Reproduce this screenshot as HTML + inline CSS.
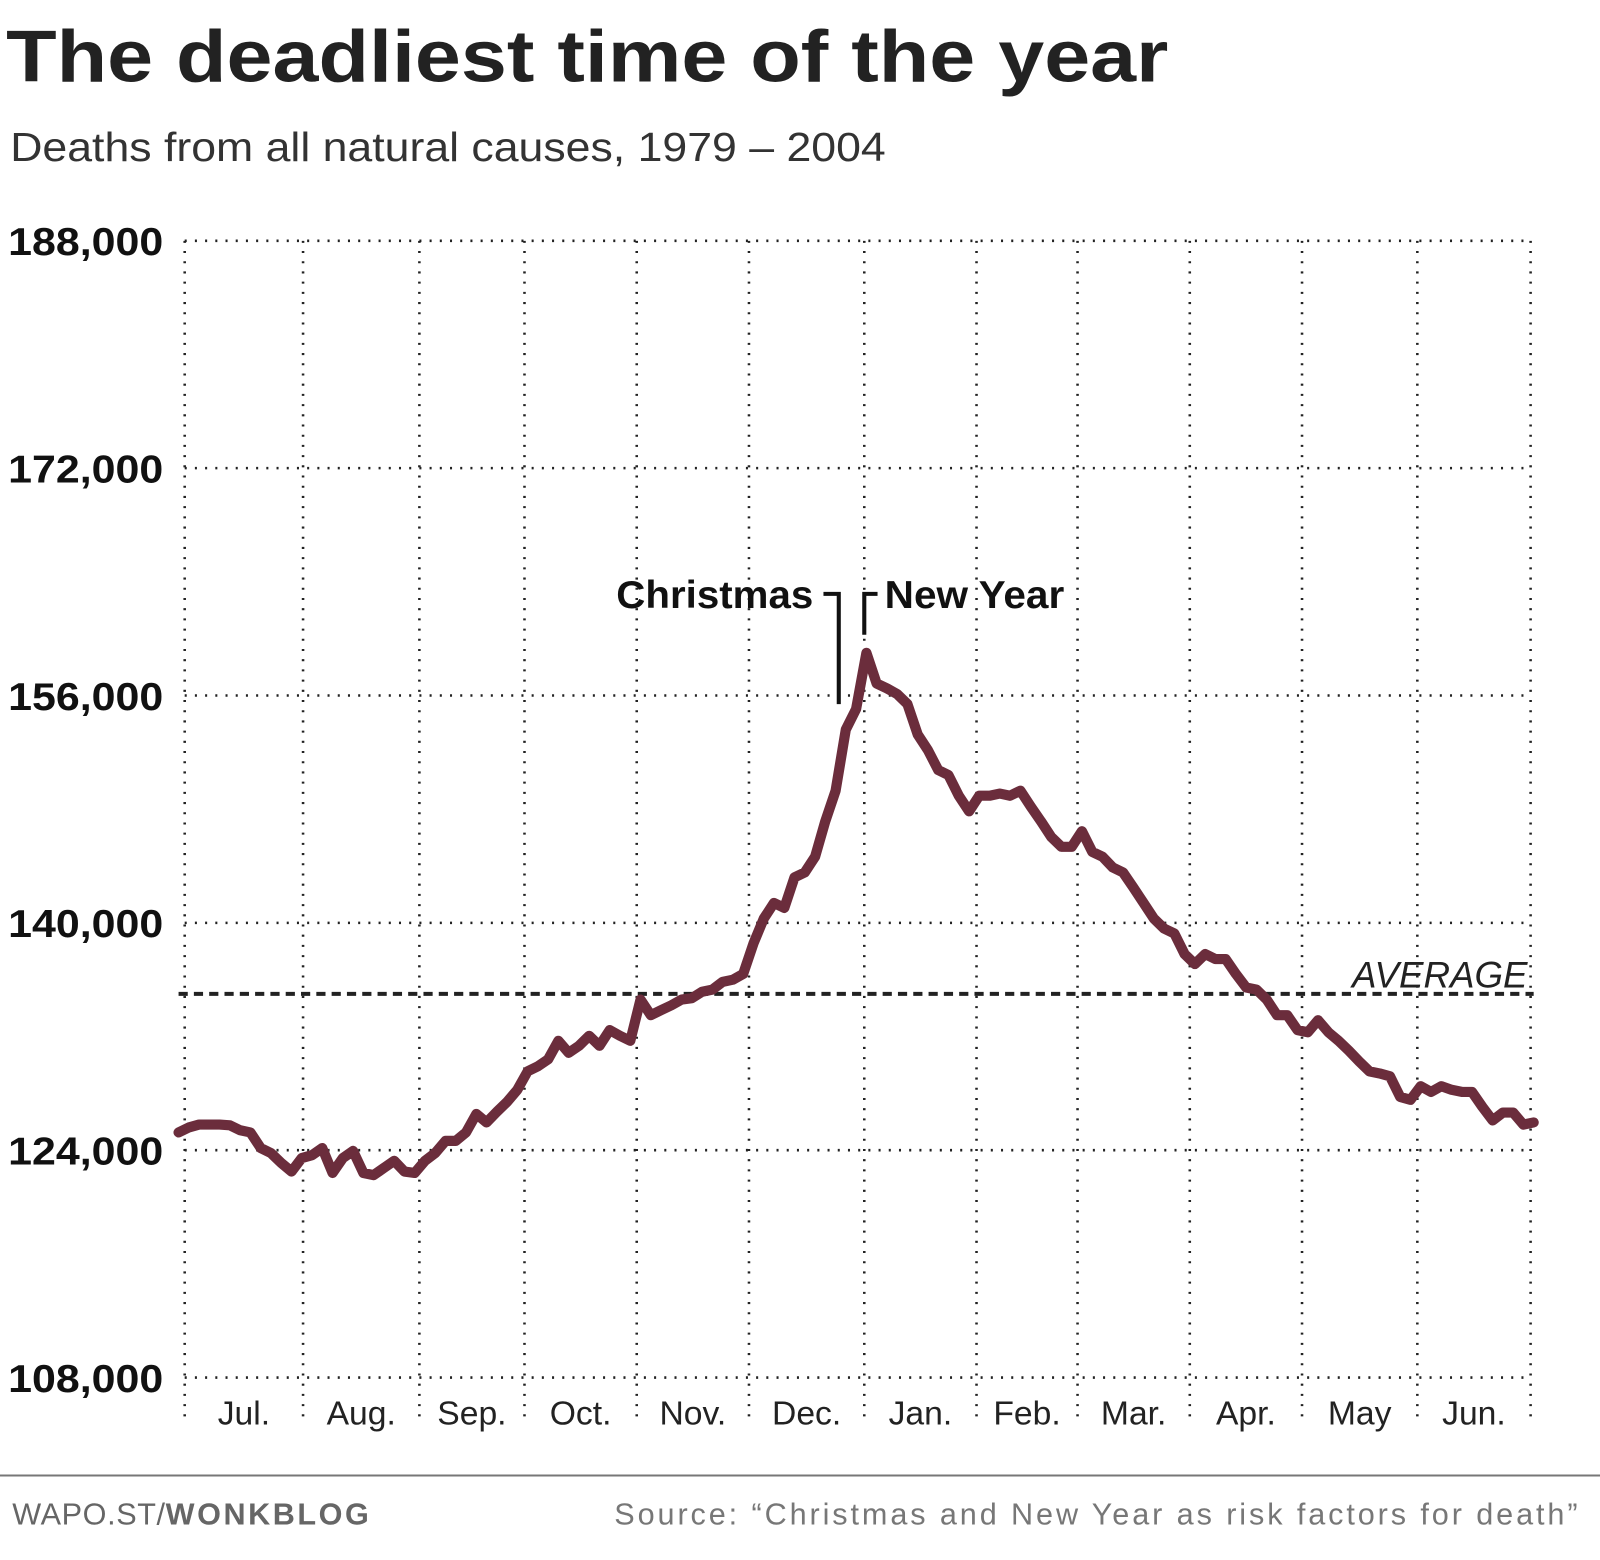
<!DOCTYPE html>
<html><head><meta charset="utf-8"><style>
html,body{margin:0;padding:0;background:#fff;}
body{width:1600px;height:1555px;overflow:hidden;font-family:"Liberation Sans",sans-serif;}
</style></head><body>
<svg width="1600" height="1555" viewBox="0 0 1600 1555" xmlns="http://www.w3.org/2000/svg">
<g transform="scale(1.0204)">
<text x="6" y="80" font-size="72" font-weight="bold" fill="#222" textLength="1139" lengthAdjust="spacingAndGlyphs">The deadliest time of the year</text>
<text x="10" y="158" font-size="40" fill="#333" textLength="858" lengthAdjust="spacingAndGlyphs">Deaths from all natural causes, 1979 – 2004</text>
<g id="grid"></g>
<g id="ylabels"></g>
<g id="xlabels"></g>
<line id="avg" x1="175" x2="1503" stroke="#222" stroke-width="4" stroke-dasharray="9,6"/>
<text x="1497" y="968" font-size="36" font-style="italic" fill="#222" text-anchor="end">AVERAGE</text>
<path id="series" fill="none" stroke="#6b2d3c" stroke-width="10" stroke-linejoin="round" stroke-linecap="round"/>
<text x="797" y="596" font-size="38" font-weight="bold" fill="#111" text-anchor="end" textLength="193" lengthAdjust="spacingAndGlyphs">Christmas</text>
<path d="M807,582 H822 V690" fill="none" stroke="#111" stroke-width="4"/>
<path d="M860,582 H847 V622" fill="none" stroke="#111" stroke-width="4"/>
<text x="867" y="596" font-size="38" font-weight="bold" fill="#111" textLength="176" lengthAdjust="spacingAndGlyphs">New Year</text>
<line x1="0" x2="1600" y1="1446" y2="1446" stroke="#777" stroke-width="2"/>
<text x="12" y="1494" font-size="30" fill="#666" letter-spacing="0.6">WAPO.ST/<tspan font-weight="bold" letter-spacing="2.5">WONKBLOG</tspan></text>
<text x="602" y="1494" font-size="30" fill="#777" textLength="944" lengthAdjust="spacing">Source: “Christmas and New Year as risk factors for death”</text>
</g>
</svg>
<script>
const yTicks=[108000,124000,140000,156000,172000,188000];
const yTickLabels=["108,000","124,000","140,000","156,000","172,000","188,000"];
const months=["Jul.","Aug.","Sep.","Oct.","Nov.","Dec.","Jan.","Feb.","Mar.","Apr.","May","Jun."];
const average=135000;
const deaths=[125250,125600,125800,125800,125800,125750,125400,125250,124150,123800,123100,122500,123450,123650,124150,122400,123450,123950,122400,122250,122750,123250,122500,122400,123250,123800,124650,124650,125250,126550,125950,126700,127400,128250,129550,129900,130400,131700,130850,131350,132050,131350,132450,132050,131700,134600,133500,133850,134200,134600,134700,135150,135300,135850,136000,136400,138550,140300,141400,141050,143200,143550,144650,147150,149300,153600,155050,159000,156850,156500,156100,155400,153250,152150,150750,150400,148950,147850,148950,148950,149100,148950,149300,148200,147150,146050,145350,145350,146450,145000,144650,143900,143550,142500,141400,140300,139600,139250,137800,137100,137800,137450,137450,136400,135450,135300,134600,133500,133500,132450,132300,133150,132300,131700,131000,130250,129550,129400,129200,127750,127550,128500,128100,128500,128250,128100,128100,127050,126100,126650,126650,125800,125950];
const NS="http://www.w3.org/2000/svg";
const plotTop=236,plotBottom=1350,plotLeft=175,plotRight=1503;
const yMin=108000,yMax=188000;
function yScale(v){return plotBottom-(v-yMin)/(yMax-yMin)*(plotBottom-plotTop);}
function xScale(i){return plotLeft+i/(deaths.length-1)*(plotRight-plotLeft);}
const vlines=[181,297,411,514,624,734,847,957,1056,1166,1276,1389,1500];
const grid=document.getElementById('grid');
yTicks.forEach((t,i)=>{
 const l=document.createElementNS(NS,'line');
 l.setAttribute('x1',181);l.setAttribute('x2',1500);
 l.setAttribute('y1',yScale(t));l.setAttribute('y2',yScale(t));
 l.setAttribute('stroke','#222');l.setAttribute('stroke-width','2.5');
 l.setAttribute('stroke-dasharray','2,8');
 
 
 grid.appendChild(l);
 const tx=document.createElementNS(NS,'text');
 tx.setAttribute('x',160);tx.setAttribute('y',yScale(t)+14);
 tx.setAttribute('text-anchor','end');tx.setAttribute('font-size','38');
 tx.setAttribute('font-weight','bold');tx.setAttribute('fill','#111');
 tx.setAttribute('textLength','152');tx.setAttribute('lengthAdjust','spacingAndGlyphs');
 tx.textContent=yTickLabels[i];
 
 
 document.getElementById('ylabels').appendChild(tx);
});
vlines.forEach(x=>{
 const l=document.createElementNS(NS,'line');
 l.setAttribute('x1',x);l.setAttribute('x2',x);
 l.setAttribute('y1',236);l.setAttribute('y2',1392);
 l.setAttribute('stroke','#222');l.setAttribute('stroke-width','2.5');
 l.setAttribute('stroke-dasharray','2,8');
 
 
 grid.appendChild(l);
});
months.forEach((m,i)=>{
 const tx=document.createElementNS(NS,'text');
 tx.setAttribute('x',(vlines[i]+vlines[i+1])/2);tx.setAttribute('y',1396);
 tx.setAttribute('text-anchor','middle');tx.setAttribute('font-size','33');
 tx.setAttribute('fill','#222');
 tx.textContent=m;
 
 
 document.getElementById('xlabels').appendChild(tx);
});
const avg=document.getElementById('avg');
avg.setAttribute('y1',yScale(average));avg.setAttribute('y2',yScale(average));
document.getElementById('series').setAttribute('d',deaths.map((v,i)=>(i?'L':'M')+xScale(i).toFixed(1)+','+yScale(v).toFixed(1)).join(' '));
</script>
</body></html>
